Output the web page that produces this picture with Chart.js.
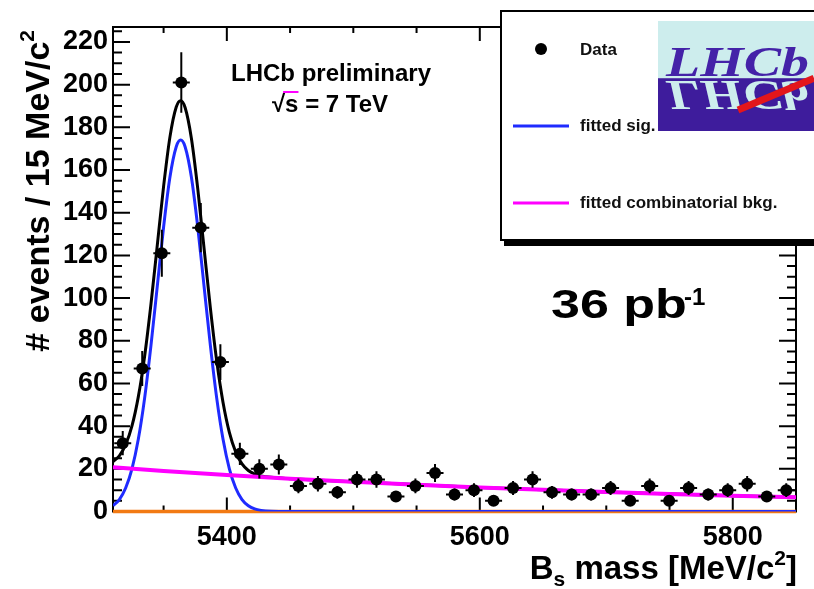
<!DOCTYPE html>
<html>
<head>
<meta charset="utf-8">
<script src="https://cdn.jsdelivr.net/npm/chart.js@4/dist/chart.umd.min.js"></script>
<style>
  html, body { margin: 0; padding: 0; background: #fff; }
  canvas { display: block; }
</style>
</head>
<body>
<canvas id="massChart" width="814" height="589"></canvas>
<script>
// Bs candidates, 35 bins between 5310 and 5850 MeV/c2
const binCenters = [5317.7, 5333.1, 5348.6, 5364.0, 5379.4, 5394.9, 5410.3, 5425.7, 5441.1, 5456.6,
                    5472.0, 5487.4, 5502.9, 5518.3, 5533.7, 5549.1, 5564.6, 5580.0, 5595.4, 5610.9,
                    5626.3, 5641.7, 5657.1, 5672.6, 5688.0, 5703.4, 5718.9, 5734.3, 5749.7, 5765.1,
                    5780.6, 5796.0, 5811.4, 5826.9, 5842.3];
const events = [32, 67, 121, 201, 133, 70, 27, 20, 22, 12,
                13, 9, 15, 15, 7, 12, 18, 8, 10, 5,
                11, 15, 9, 8, 8, 11, 5, 12, 5, 11,
                8, 10, 13, 7, 10];
const eventErrors = [5.7, 8.2, 11.0, 14.2, 11.5, 8.4, 5.2, 4.5, 4.7, 3.5,
                     3.6, 3.0, 3.9, 3.9, 2.6, 3.5, 4.2, 2.8, 3.2, 2.2,
                     3.3, 3.9, 3.0, 2.8, 2.8, 3.3, 2.2, 3.5, 2.2, 3.3,
                     2.8, 3.2, 3.6, 2.6, 3.2];

// fitted signal (blue)
const sigMass = [5310, 5315, 5320, 5325, 5330, 5335, 5340, 5345, 5350, 5355, 5360, 5363.5,
                 5367, 5372, 5377, 5382, 5387, 5392, 5397, 5402, 5407, 5412, 5417, 5422, 5427, 5435, 5450, 5850];
const sigCurve = [2.7, 5.6, 11.0, 20.0, 33.8, 53.1, 77.7, 105.5, 133.3, 156.6, 170.9, 174.0,
                  170.9, 156.6, 133.3, 105.5, 77.7, 53.1, 33.8, 20.0, 11.0, 5.6, 2.7, 1.2, 0.5, 0.1, 0, 0];

// fitted combinatorial background (magenta)
const bkgMass = [5310, 5350, 5400, 5450, 5500, 5550, 5600, 5650, 5700, 5750, 5800, 5850];
const bkgCurve = [20.7, 19.0, 17.1, 15.4, 13.9, 12.5, 11.3, 10.2, 9.1, 8.2, 7.4, 6.7];

// total fit (black)
const totMass = [5310, 5315, 5320, 5325, 5330, 5335, 5340, 5345, 5350, 5355, 5360, 5363.5,
                 5367, 5372, 5377, 5382, 5387, 5392, 5397, 5402, 5407, 5412, 5417, 5422, 5427, 5435, 5450,
                 5500, 5600, 5700, 5800, 5850];
const totCurve = [23.4, 26.1, 31.3, 40.1, 53.7, 72.7, 97.1, 124.7, 152.3, 175.4, 189.5, 192.5,
                  189.3, 174.8, 151.3, 123.3, 95.3, 70.5, 51.1, 37.1, 27.9, 22.3, 19.2, 17.6, 16.7, 16.0, 15.4,
                  13.9, 11.3, 9.1, 7.4, 6.7];

// peaking component, flat at zero (orange)
const peakMass = [5310, 5850];
const peakCurve = [0, 0];

const xRange = [5310, 5850];
const yRange = [0, 227];
const xMajorStep = 200, xMinorStep = 50;
const yMajorStep = 20, yMinorStep = 5;

const FONT = '"Liberation Sans", Arial, Helvetica, sans-serif';
Chart.defaults.font.family = FONT;

const pts = (xs, ys) => xs.map((x, i) => ({ x: x, y: ys[i] }));

// ROOT-style frame with ticks pointing inwards
const frameTicks = {
  id: 'frameTicks',
  beforeDatasetsDraw(chart) {
    const { ctx, chartArea: a, scales: { x, y } } = chart;
    ctx.save();
    ctx.strokeStyle = '#000';
    ctx.lineWidth = 2;
    ctx.strokeRect(a.left, a.top, a.right - a.left, a.bottom - a.top);
    ctx.beginPath();
    for (let v = yRange[0]; v <= yRange[1]; v += yMinorStep) {
      const len = v % yMajorStep === 0 ? 17 : 9;
      const py = y.getPixelForValue(v);
      ctx.moveTo(a.left, py); ctx.lineTo(a.left + len, py);
      ctx.moveTo(a.right, py); ctx.lineTo(a.right - len, py);
    }
    for (let m = Math.ceil(xRange[0] / xMinorStep) * xMinorStep; m < xRange[1]; m += xMinorStep) {
      const len = m % xMajorStep === 0 ? 14 : 6;
      const px = x.getPixelForValue(m);
      ctx.moveTo(px, a.bottom); ctx.lineTo(px, a.bottom - len);
      ctx.moveTo(px, a.top); ctx.lineTo(px, a.top + len);
    }
    ctx.stroke();
    ctx.restore();
  }
};

// sqrt(N) error bars on the data points
const errorBars = {
  id: 'errorBars',
  afterDatasetsDraw(chart) {
    const { ctx, scales: { x, y } } = chart;
    ctx.save();
    ctx.strokeStyle = '#000';
    ctx.lineWidth = 2;
    ctx.beginPath();
    binCenters.forEach((m, i) => {
      const px = x.getPixelForValue(m);
      const py = y.getPixelForValue(events[i]);
      ctx.moveTo(px, y.getPixelForValue(events[i] + eventErrors[i]));
      ctx.lineTo(px, y.getPixelForValue(events[i] - eventErrors[i]));
      ctx.moveTo(px - 8.5, py);
      ctx.lineTo(px + 8.5, py);
    });
    ctx.stroke();
    ctx.restore();
  }
};

function drawLogo(ctx, x0, y0, w, h) {
  const mid = y0 + h * 0.52;
  ctx.save();
  ctx.beginPath();
  ctx.rect(x0, y0, w, h);
  ctx.clip();
  ctx.fillStyle = '#cdeded';
  ctx.fillRect(x0, y0, w, mid - y0);
  ctx.fillStyle = '#3e1c9c';
  ctx.fillRect(x0, mid, w, y0 + h - mid);
  ctx.font = 'italic bold 43px "Liberation Serif", "DejaVu Serif", serif';
  ctx.textBaseline = 'alphabetic';
  ctx.textAlign = 'left';
  // upper word
  ctx.save();
  ctx.translate(x0 + 8, mid - 2.5);
  ctx.scale(1.3, 1);
  ctx.fillStyle = '#4422a8';
  ctx.fillText('LHCb', 0, 0);
  ctx.restore();
  // mirrored word
  ctx.save();
  ctx.beginPath();
  ctx.rect(x0, mid, w, y0 + h - mid);
  ctx.clip();
  ctx.translate(x0 + 8, mid + 2.5);
  ctx.scale(1.3, -1);
  ctx.fillStyle = '#cdeded';
  ctx.fillText('LHCb', 0, 0);
  ctx.restore();
  // red stripe
  ctx.strokeStyle = '#e3161b';
  ctx.lineWidth = 7;
  ctx.beginPath();
  ctx.moveTo(x0 + 80, y0 + 89);
  ctx.lineTo(x0 + w - 4, mid);
  ctx.stroke();
  ctx.restore();
}

// legend box, annotations, logo and axis titles
const overlay = {
  id: 'overlay',
  afterDraw(chart) {
    const { ctx, chartArea: a } = chart;
    ctx.save();

    // legend box with drop shadow
    ctx.fillStyle = '#000';
    ctx.fillRect(504, 14, 330, 232);
    ctx.fillStyle = '#fff';
    ctx.fillRect(500, 10, 330, 231);
    ctx.strokeStyle = '#000';
    ctx.lineWidth = 2;
    ctx.strokeRect(501, 11, 330, 229);

    ctx.fillStyle = '#000';
    ctx.beginPath();
    ctx.arc(541, 49, 6, 0, Math.PI * 2);
    ctx.fill();
    ctx.lineWidth = 3;
    ctx.strokeStyle = '#1f2bff';
    ctx.beginPath(); ctx.moveTo(513, 126); ctx.lineTo(569, 126); ctx.stroke();
    ctx.strokeStyle = '#ff00ff';
    ctx.beginPath(); ctx.moveTo(513, 203); ctx.lineTo(569, 203); ctx.stroke();

    ctx.fillStyle = '#111';
    ctx.font = 'bold 17px ' + FONT;
    ctx.textAlign = 'left';
    ctx.textBaseline = 'middle';
    ctx.fillText('Data', 580, 50);
    ctx.fillText('fitted sig.', 580, 126);
    ctx.fillText('fitted combinatorial bkg.', 580, 203);

    drawLogo(ctx, 658, 21, 160, 110);

    // experiment label
    ctx.fillStyle = '#000';
    ctx.font = 'bold 24px ' + FONT;
    ctx.textAlign = 'center';
    ctx.textBaseline = 'alphabetic';
    ctx.fillText('LHCb preliminary', 331, 81);
    const rootW = ctx.measureText('\u221A').width;
    const sW = ctx.measureText('s').width;
    const restW = ctx.measureText(' = 7 TeV').width;
    let tx = 330 - (rootW + sW + restW) / 2;
    ctx.textAlign = 'left';
    ctx.fillText('\u221A', tx, 112);
    ctx.fillText('s', tx + rootW, 112);
    ctx.fillText(' = 7 TeV', tx + rootW + sW, 112);
    ctx.lineWidth = 2;
    ctx.beginPath();
    ctx.moveTo(tx + rootW - 2, 92);
    ctx.lineTo(tx + rootW + sW, 92);
    ctx.stroke();

    // integrated luminosity
    ctx.save();
    ctx.translate(551, 318);
    ctx.scale(1.3, 1);
    ctx.font = 'bold 40px ' + FONT;
    ctx.fillText('36 pb', 0, 0);
    ctx.restore();
    ctx.font = 'bold 24px ' + FONT;
    ctx.fillText('-1', 684, 305);

    // x-axis title: B_s mass [MeV/c^2]
    const big = 'bold 33px ' + FONT;
    const small = 'bold 21px ' + FONT;
    ctx.font = big;
    const wB = ctx.measureText('B').width;
    const wMid = ctx.measureText(' mass [MeV/c').width;
    const wEnd = ctx.measureText(']').width;
    ctx.font = small;
    const wSub = ctx.measureText('s').width;
    const wSup = ctx.measureText('2').width;
    let xx = a.right + 1 - (wB + wSub + wMid + wSup + wEnd);
    const base = 579;
    ctx.font = big; ctx.fillText('B', xx, base); xx += wB;
    ctx.font = small; ctx.fillText('s', xx, base + 7); xx += wSub;
    ctx.font = big; ctx.fillText(' mass [MeV/c', xx, base); xx += wMid;
    ctx.font = small; ctx.fillText('2', xx, base - 14); xx += wSup;
    ctx.font = big; ctx.fillText(']', xx, base);

    // y-axis title: # events / 15 MeV/c^2
    ctx.save();
    ctx.translate(49, 30);
    ctx.rotate(-Math.PI / 2);
    ctx.font = 'bold 34px ' + FONT;
    const wY = ctx.measureText('# events / 15 MeV/c').width;
    ctx.font = small;
    const wY2 = ctx.measureText('2').width;
    ctx.font = 'bold 34px ' + FONT;
    ctx.fillText('# events / 15 MeV/c', -(wY + wY2), 0);
    ctx.font = small;
    ctx.fillText('2', -wY2, -15);
    ctx.restore();

    ctx.restore();
  }
};

const lineStyle = (color, width) => ({
  type: 'line',
  borderColor: color,
  backgroundColor: color,
  borderWidth: width,
  pointRadius: 0,
  fill: false,
  cubicInterpolationMode: 'monotone'
});

new Chart(document.getElementById('massChart'), {
  type: 'scatter',
  data: {
    datasets: [
      {
        label: 'Data',
        data: pts(binCenters, events),
        pointRadius: 6,
        pointBackgroundColor: '#000',
        pointBorderColor: '#000',
        pointBorderWidth: 0,
        showLine: false,
        order: 0
      },
      Object.assign({ label: 'fitted combinatorial bkg.', data: pts(bkgMass, bkgCurve), order: 1 }, lineStyle('#ff00ff', 4)),
      Object.assign({ label: 'fitted sig.', data: pts(sigMass, sigCurve), order: 2 }, lineStyle('#1f2bff', 3)),
      Object.assign({ label: 'total fit', data: pts(totMass, totCurve), order: 3 }, lineStyle('#000', 3)),
      Object.assign({ label: 'peaking', data: pts(peakMass, peakCurve), order: 4, clip: 4 }, lineStyle('#f27a14', 3.5))
    ]
  },
  options: {
    responsive: false,
    animation: false,
    layout: { padding: { left: 0, right: 18, top: 27, bottom: 0 } },
    plugins: {
      legend: { display: false },
      tooltip: { enabled: false }
    },
    scales: {
      x: {
        type: 'linear',
        min: xRange[0],
        max: xRange[1],
        afterFit(scale) { scale.height = 77.5; },
        grid: { display: false, drawTicks: false },
        border: { display: false },
        ticks: {
          stepSize: xMajorStep,
          includeBounds: false,
          padding: 10,
          color: '#000',
          maxRotation: 0,
          autoSkip: false,
          font: { size: 27, weight: 'bold' },
          callback: v => String(v)
        }
      },
      y: {
        min: yRange[0],
        max: yRange[1],
        afterFit(scale) { scale.width = 113; },
        grid: { display: false, drawTicks: false },
        border: { display: false },
        ticks: {
          stepSize: yMajorStep,
          includeBounds: false,
          padding: 5,
          color: '#000',
          autoSkip: false,
          font: { size: 27, weight: 'bold' },
          callback: v => String(v)
        }
      }
    }
  },
  plugins: [frameTicks, errorBars, overlay]
});
</script>
</body>
</html>
